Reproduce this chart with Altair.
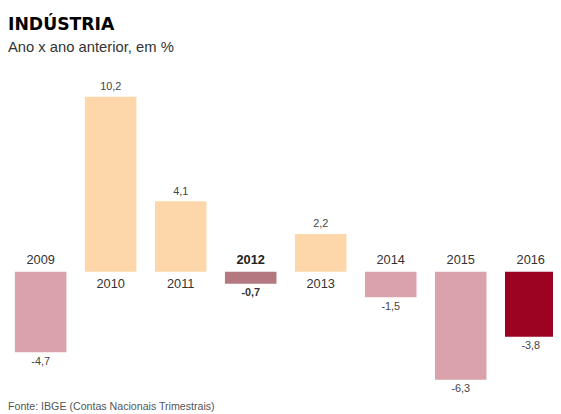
import altair as alt
import pandas as pd

anos = ["2009", "2010", "2011", "2012", "2013", "2014", "2015", "2016"]
valores = [-4.7, 10.2, 4.1, -0.7, 2.2, -1.5, -6.3, -3.8]
rotulos = ["-4,7", "10,2", "4,1", "-0,7", "2,2", "-1,5", "-6,3", "-3,8"]
grupos = ["neg", "pos", "pos", "destaque", "pos", "neg", "neg", "atual"]
titulo = "INDÚSTRIA"
subtitulo = "Ano x ano anterior, em %"
fonte = "Fonte: IBGE (Contas Nacionais Trimestrais)"

grupo_dom = ["pos", "neg", "destaque", "atual"]
grupo_cor = ["#fdd6a9", "#daa2ab", "#b47880", "#9c0322"]

df = pd.DataFrame({"ano": anos, "valor": valores, "rotulo": rotulos, "grupo": grupos})

MEIA = 0.368  # half bar width, in years
Xscale = alt.Scale(domain=[2008.5334, 2016.3177], nice=False, zero=False)
Yscale = alt.Scale(domain=[-8.13, 15.2], nice=False, zero=False)

base = alt.Chart(df).transform_calculate(
    anoN="toNumber(datum.ano)",
    a0=f"toNumber(datum.ano) - {MEIA}",
    a1=f"toNumber(datum.ano) + {MEIA}",
)

bars = base.mark_bar().encode(
    x=alt.X("a0:Q", axis=None, scale=Xscale),
    x2="a1:Q",
    y=alt.Y("valor:Q", axis=None, scale=Yscale),
    y2=alt.datum(0),
    color=alt.Color("grupo:N", legend=None,
                    scale=alt.Scale(domain=grupo_dom, range=grupo_cor)),
)

FONT = "Liberation Sans"
XT = alt.X("anoN:Q")

ano_pos = base.transform_filter("datum.valor > 0").mark_text(
    font=FONT, fontSize=13, color="#333333", baseline="middle", dy=12.5
).encode(x=XT, y=alt.datum(0), text="ano:N")

ano_neg = base.transform_filter("datum.valor < 0 && datum.grupo != 'destaque'").mark_text(
    font=FONT, fontSize=13, color="#333333", baseline="middle", dy=-12
).encode(x=XT, y=alt.datum(0), text="ano:N")

ano_dest = base.transform_filter("datum.grupo == 'destaque'").mark_text(
    font=FONT, fontSize=13, fontWeight="bold", color="#222222", baseline="middle", dy=-12
).encode(x=XT, y=alt.datum(0), text="ano:N")

val_pos = base.transform_filter("datum.valor > 0").mark_text(
    font=FONT, fontSize=11, color="#444444", baseline="middle", dy=-9.5
).encode(x=XT, y=alt.Y("valor:Q"), text="rotulo:N")

val_neg = base.transform_filter("datum.valor < 0 && datum.grupo != 'destaque'").mark_text(
    font=FONT, fontSize=11, color="#444444", baseline="middle", dy=9.5
).encode(x=XT, y=alt.Y("valor:Q"), text="rotulo:N")

val_dest = base.transform_filter("datum.grupo == 'destaque'").mark_text(
    font=FONT, fontSize=11, fontWeight="bold", color="#333333", baseline="middle", dy=9.5
).encode(x=XT, y=alt.Y("valor:Q"), text="rotulo:N")

t_title = alt.Chart(pd.DataFrame({"t": [titulo]})).mark_text(
    font="DejaVu Sans", fontSize=17.5, fontWeight="bold", color="#000000",
    align="left", baseline="alphabetic"
).encode(x=alt.value(0), y=alt.value(19), text="t:N")

t_sub = alt.Chart(pd.DataFrame({"t": [subtitulo]})).mark_text(
    font=FONT, fontSize=15, color="#333333", align="left", baseline="alphabetic"
).encode(x=alt.value(0), y=alt.value(41.5), text="t:N")

t_fonte = alt.Chart(pd.DataFrame({"t": [fonte]})).mark_text(
    font=FONT, fontSize=10.8, color="#555555", align="left", baseline="alphabetic"
).encode(x=alt.value(0), y=alt.value(405), text="t:N")

chart = alt.layer(
    bars, ano_pos, ano_neg, ano_dest, val_pos, val_neg, val_dest, t_title, t_sub, t_fonte
).properties(
    width=553, height=406,
    autosize=alt.AutoSizeParams(type="none"),
    padding=0,
).configure_view(stroke=None)

chart.save("out.html", embed_options={"renderer": "svg", "actions": False})
